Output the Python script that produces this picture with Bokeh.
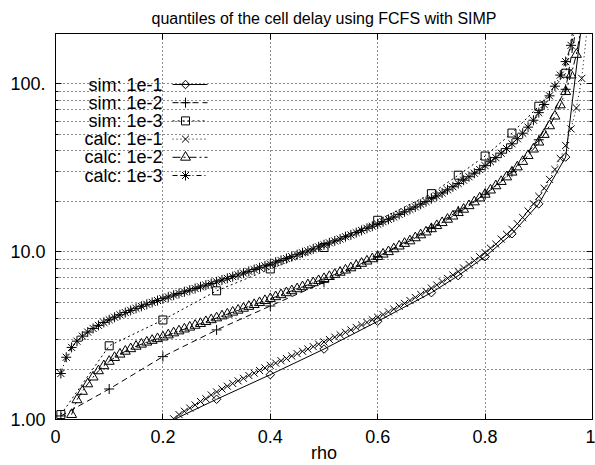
from bokeh.plotting import figure
from bokeh.models import (FixedTicker, LogAxis, LinearAxis, Range1d,
                          CustomJSTickFormatter)
from bokeh.core.properties import value
from bokeh.embed import file_html
from bokeh.resources import INLINE

# ---------------- data ----------------
title_text = "quantiles of the cell delay using FCFS with SIMP"
x_label = "rho"
x_ticks = [0, 0.2, 0.4, 0.6, 0.8, 1.0]
x_tick_labels = ["0", "0.2", "0.4", "0.6", "0.8", "1"]
y_ticks = [1, 10, 100]
y_tick_labels = ["1.00", "10.0", "100."]
y_minor_ticks = [2, 3, 4, 5, 6, 7, 8, 9, 20, 30, 40, 50, 60, 70, 80, 90, 200]

series_names = ["sim: 1e-1", "sim: 1e-2", "sim: 1e-3",
                "calc: 1e-1", "calc: 1e-2", "calc: 1e-3"]

sim_rho_1 = [0.2, 0.3, 0.4, 0.5, 0.6, 0.7, 0.75, 0.8, 0.85, 0.9, 0.95, 0.98]
sim_q_1 = [0.93, 1.32, 1.85, 2.63, 3.85, 5.7, 7.2, 9.35, 12.8, 19.3, 36.7, 230]

sim_rho = [0.01, 0.1, 0.2, 0.3, 0.4, 0.5, 0.6, 0.7, 0.75, 0.8, 0.85, 0.9, 0.95, 0.98]
sim_q_2 = [1.05, 1.52, 2.37, 3.42, 4.75, 6.57, 9.35, 13.9, 17.5, 22.0, 30.0, 46.5, 93, 340]
sim_q_3 = [1.07, 2.75, 3.92, 5.85, 7.9, 10.6, 15.4, 22.2, 28.6, 37.2, 51, 73.7, 116, 430]

calc_rho_1 = [round(i / 100, 2) for i in range(22, 100)]
calc_q_1 = [1.01, 1.07, 1.12, 1.17, 1.22, 1.28, 1.33, 1.40, 1.46,
            1.52, 1.58, 1.64, 1.70, 1.76, 1.83, 1.89, 1.96, 2.03, 2.10,
            2.17, 2.24, 2.31, 2.39, 2.47, 2.55, 2.63, 2.72, 2.81, 2.90,
            3.00, 3.10, 3.20, 3.31, 3.42, 3.54, 3.66, 3.79, 3.93, 4.07,
            4.22, 4.38, 4.55, 4.73, 4.92, 5.12, 5.34, 5.57, 5.81, 6.07,
            6.34, 6.63, 6.94, 7.27, 7.62, 8.00, 8.41, 8.86, 9.35, 9.88,
            10.5, 11.1, 11.9, 12.7, 13.6, 14.7, 16.0, 17.5, 19.3, 21.4,
            23.9, 27.0, 30.9, 36.0, 43.0, 54.0, 72.0, 108, 215]

calc_rho_2 = [round(i / 100, 2) for i in range(3, 99)]
calc_q_2 = [1.07, 1.31, 1.47, 1.63, 1.79, 1.95, 2.09, 2.22,
            2.34, 2.45, 2.55, 2.64, 2.73, 2.81, 2.89, 2.96, 3.03, 3.10,
            3.19, 3.28, 3.37, 3.46, 3.55, 3.64, 3.73, 3.83, 3.93, 4.03,
            4.14, 4.25, 4.36, 4.48, 4.60, 4.72, 4.84, 4.97, 5.11, 5.25,
            5.39, 5.54, 5.69, 5.85, 6.01, 6.18, 6.35, 6.53, 6.72, 6.91,
            7.11, 7.32, 7.54, 7.77, 8.01, 8.26, 8.52, 8.79, 9.07, 9.36,
            9.67, 10.0, 10.4, 10.8, 11.2, 11.6, 12.1, 12.6, 13.1, 13.7,
            14.3, 14.9, 15.6, 16.3, 17.1, 17.9, 18.8, 19.8, 20.9, 22.0,
            23.3, 24.7, 26.2, 27.9, 29.8, 32.0, 34.5, 37.4, 40.9, 45.0,
            50.0, 56.3, 64.3, 75.0, 90.0, 113, 150, 225]

calc_rho_3 = [round(i / 100, 2) for i in range(1, 98)]
calc_q_3 = [1.88, 2.35, 2.69, 2.93, 3.14, 3.32, 3.49, 3.64, 3.79, 3.93,
            4.07, 4.21, 4.34, 4.47, 4.60, 4.73, 4.86, 4.99, 5.12, 5.25,
            5.38, 5.51, 5.64, 5.77, 5.90, 6.04, 6.18, 6.32, 6.47, 6.62,
            6.78, 6.94, 7.11, 7.28, 7.46, 7.64, 7.83, 8.03, 8.24, 8.45,
            8.66, 8.88, 9.11, 9.35, 9.60, 9.86, 10.1, 10.4, 10.7, 11.0,
            11.3, 11.6, 11.9, 12.3, 12.6, 13.0, 13.4, 13.8, 14.2, 14.6,
            15.1, 15.6, 16.1, 16.7, 17.3, 17.9, 18.5, 19.2, 19.9, 20.7,
            21.5, 22.4, 23.4, 24.4, 25.5, 26.7, 28.0, 29.4, 30.9, 32.6,
            34.4, 36.4, 38.7, 41.2, 44.0, 47.2, 50.9, 55.3, 60.8, 67.5,
            75.5, 85.0, 97.0, 113, 136, 170, 227]

# ---------------- layout ----------------
W, H = 595, 465
FL, FR, FT, FB = 55, 592, 33, 419          # frame edges in pixels
X0, X1, Y0, Y1 = 0.0, 1.0, 1.0, 200.0
FONT = "Liberation Sans"


def sx(px):
    return X0 + (px - FL) / (FR - FL) * (X1 - X0)


def sy(py):
    return Y0 * (Y1 / Y0) ** ((FB - py) / (FB - FT))


p = figure(width=W, height=H, x_range=Range1d(X0, X1), y_range=Range1d(Y0, Y1),
           y_axis_type="log", output_backend="svg", toolbar_location=None,
           title=title_text,
           min_border_left=FL, min_border_right=W - FR,
           min_border_top=FT, min_border_bottom=H - FB)
p.background_fill_color = "white"
p.border_fill_color = "white"
p.outline_line_color = "black"
p.outline_line_width = 1
p.outline_line_alpha = 1.0

p.title.align = "center"
p.title.text_font = FONT
p.title.text_font_size = "16px"
p.title.text_font_style = "normal"
p.title.text_color = "black"
p.title.standoff = 14
p.title.offset = -3

xt = FixedTicker(ticks=x_ticks, minor_ticks=[])
yt = FixedTicker(ticks=y_ticks, minor_ticks=y_minor_ticks)

fmt_code = """
for (let i = 0; i < tvals.length; i++) {
  if (Math.abs(tvals[i] - tick) <= 1e-9 * Math.max(1, Math.abs(tick))) return tlabels[i];
}
return '';
"""
xfmt = CustomJSTickFormatter(args=dict(tvals=x_ticks, tlabels=x_tick_labels), code=fmt_code)
yfmt = CustomJSTickFormatter(args=dict(tvals=y_ticks, tlabels=y_tick_labels), code=fmt_code)
blank = CustomJSTickFormatter(code="return '';")

for ax, tk, fm in ((p.xaxis[0], xt, xfmt), (p.yaxis[0], yt, yfmt)):
    ax.ticker = tk
    ax.formatter = fm
    ax.major_tick_in = 6
    ax.major_tick_out = 0
    ax.minor_tick_in = 3
    ax.minor_tick_out = 0
    ax.major_tick_line_color = "black"
    ax.minor_tick_line_color = "black"
    ax.axis_line_color = "black"
    ax.major_label_text_font = FONT
    ax.major_label_text_font_size = "18px"
    ax.major_label_text_color = "black"
    ax.major_label_standoff = 10

xa = p.xaxis[0]
xa.axis_label = x_label
xa.axis_label_text_font = FONT
xa.axis_label_text_font_size = "18px"
xa.axis_label_text_font_style = "normal"
xa.axis_label_text_color = "black"
xa.axis_label_standoff = -3

top = LinearAxis(ticker=xt, formatter=blank, major_tick_in=6, major_tick_out=0,
                 minor_tick_in=0, minor_tick_out=0, major_label_standoff=0,
                 major_label_text_font_size="0px", axis_line_color="black")
right = LogAxis(ticker=yt, formatter=blank, major_tick_in=6, major_tick_out=0,
                minor_tick_in=3, minor_tick_out=0, major_label_standoff=0,
                major_label_text_font_size="0px", axis_line_color="black")
p.add_layout(top, "above")
p.add_layout(right, "right")

p.xgrid.ticker = xt
p.ygrid.ticker = yt
for g in (p.xgrid[0], p.ygrid[0]):
    g.grid_line_color = "black"
    g.grid_line_alpha = 0.9
    g.grid_line_dash = "1 3"
    g.grid_line_width = 1
p.ygrid[0].minor_grid_line_color = "black"
p.ygrid[0].minor_grid_line_alpha = 0.9
p.ygrid[0].minor_grid_line_dash = "1 3"
p.ygrid[0].minor_grid_line_width = 1

styles = [
    dict(x=sim_rho_1, y=sim_q_1, marker="square", size=6, angle=0.785398, dash="solid"),
    dict(x=sim_rho, y=sim_q_2, marker="cross", size=10, angle=0.0, dash="6 4"),
    dict(x=sim_rho, y=sim_q_3, marker="square", size=8, angle=0.0, dash="2 3"),
    dict(x=calc_rho_1, y=calc_q_1, marker="x", size=10, angle=0.0, dash="1 3"),
    dict(x=calc_rho_2, y=calc_q_2, marker="triangle", size=10, angle=0.0, dash="8 3 2 3"),
    dict(x=calc_rho_3, y=calc_q_3, marker="asterisk", size=10, angle=0.0, dash="5 3 1 3"),
]

# legend geometry (pixels)
row_py = [84 + 18.2 * i for i in range(len(series_names))]
text_px, line_px0, line_px1, mark_px = 162, 172, 207, 185

for name, st, rp in zip(series_names, styles, row_py):
    p.line(st["x"], st["y"], line_color="black", line_width=1, line_dash=st["dash"])
    p.scatter(st["x"], st["y"], marker=st["marker"], size=st["size"], angle=st["angle"],
              line_color="black", line_width=1, fill_color=None)
    ly = sy(rp)
    p.line([sx(line_px0), sx(line_px1)], [ly, ly], line_color="black", line_width=1,
           line_dash=st["dash"])
    p.scatter([sx(mark_px)], [ly], marker=st["marker"], size=st["size"], angle=st["angle"],
              line_color="black", line_width=1, fill_color=None)

p.text(x=[sx(text_px)] * len(series_names), y=[sy(r) for r in row_py], text=series_names,
       text_align="right", text_baseline="middle", text_font=value(FONT),
       text_font_size=value("18px"), text_color="black")

open("out.html", "w").write(file_html(p, INLINE))
